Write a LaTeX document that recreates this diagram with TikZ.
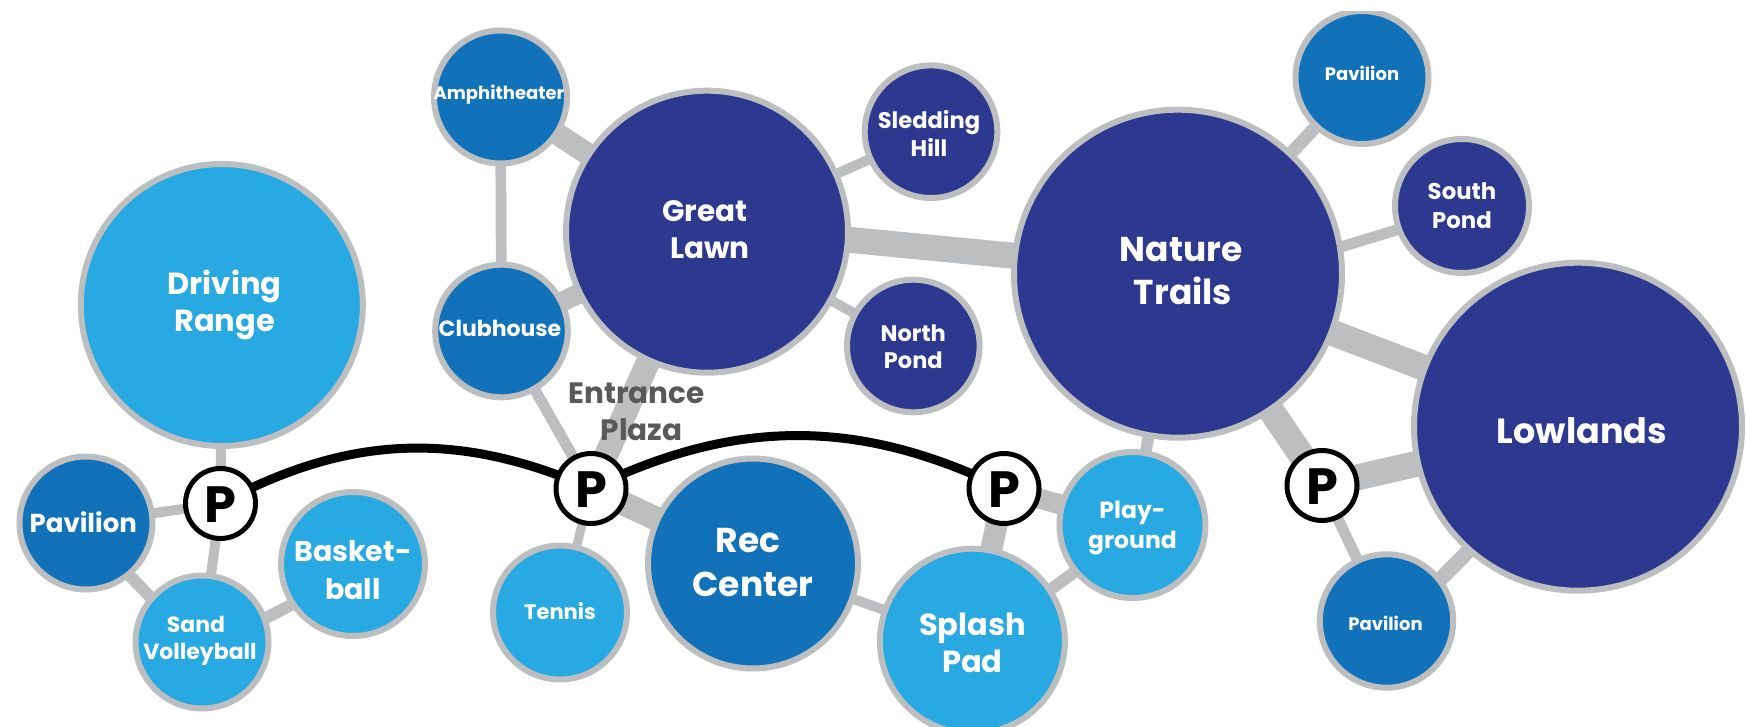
\documentclass[tikz,border=0pt]{standalone}
\usepackage{fontspec}
\setmainfont{Poppins}
\usetikzlibrary{backgrounds}
\definecolor{navy}{HTML}{2D388F}
\definecolor{midblue}{HTML}{1172BA}
\definecolor{skyblue}{HTML}{29A9E1}
\definecolor{linkgray}{HTML}{BCBEC0}
\definecolor{textgray}{HTML}{58595B}
\newcommand{\fsz}[2]{\fontsize{#1}{#2}\selectfont\bfseries}
% \lbl{dx}{first baseline below centre}{lines}: zero-size box, so the circle keeps its size
\newcommand{\lbl}[3]{\makebox[0pt][c]{\hspace*{#1pt}\hspace*{#1pt}\raisebox{-#2pt}[0pt][0pt]{\begin{tabular}[t]{@{}c@{}}#3\end{tabular}}}}
\tikzset{
  x=1pt,y=-1pt,
  place/.style n args={2}{circle,draw=linkgray,line width=6pt,fill=#1,text=white,
     minimum size=#2*2pt-6pt,inner sep=0pt,outer sep=0pt},
  tx/.style 2 args={font=\fsz{#1}{#2}},
  parking/.style={circle,draw=black,line width=5pt,fill=white,text=black,
     minimum size=70pt,inner sep=0pt,outer sep=0pt,font=\fsz{51}{51}},
  link/.style={draw=linkgray,line width=#1pt},
  road/.style={draw=black,line width=9pt},
  caption/.style={text=textgray,inner sep=0pt,font=\fsz{29.5}{36.7}}
}
\begin{document}
\begin{tikzpicture}
\useasboundingbox (0,0) rectangle (1746,727);
% Nodes
\node[place={skyblue}{144},tx={30.5}{37.4}] (driving) at (221.8,305) {\lbl{2.7}{-10.7}{Driving\\Range}};
\node[place={midblue}{69.5},tx={26}{32}] (pavL) at (86,523) {\lbl{-2.7}{9.7}{Pavilion}};
\node[place={skyblue}{69.5},tx={22}{27.5}] (sand) at (202,642) {\lbl{-2}{-10}{\hspace*{-8pt}Sand\\Volleyball}};
\node[place={skyblue}{75},tx={28.5}{37.7}] (basket) at (353,564) {\lbl{0}{-2.3}{Basket-\\ball}};
\node[parking] (p1) at (220.5,503.5) {\lbl{0}{18.7}{P}};
\node[place={midblue}{69.5},tx={18}{26}] (amph) at (500.5,97) {\lbl{-1.5}{3}{Amphitheater}};
\node[place={midblue}{69.3},tx={22}{26}] (club) at (501.5,331) {\lbl{-1.5}{5.7}{Clubhouse}};
\node[place={navy}{144},tx={29.5}{37.3}] (lawn) at (707,231.7) {\lbl{0}{-10}{\hspace*{-4pt}Great\\\hspace*{6pt}Lawn}};
\node[place={navy}{69.3},tx={22.6}{28.4}] (sled) at (931,131.7) {\lbl{-2}{-3.4}{Sledding\\Hill}};
\node[place={navy}{69.3},tx={22.5}{27}] (npond) at (913.3,346) {\lbl{0}{-4.3}{North\\Pond}};
\node[place={navy}{167},tx={34.5}{42.7}] (trails) at (1178,273.7) {\lbl{3}{-12}{Nature\\\hspace*{4pt}Trails}};
\node[place={midblue}{69.5},tx={18}{26}] (pavT) at (1362,77.5) {\lbl{0}{3.5}{Pavilion}};
\node[place={navy}{70},tx={22.8}{28.3}] (spond) at (1462,206) {\lbl{0}{-6}{South\\Pond}};
\node[place={navy}{167},tx={35}{43}] (low) at (1578,426.7) {\lbl{4}{16.3}{Lowlands}};
\node[parking] (p4) at (1322,485.5) {\lbl{0}{18.7}{P}};
\node[place={midblue}{69.7},tx={18}{26}] (pavB) at (1386.5,621) {\lbl{-1}{9}{Pavilion}};
\node[place={skyblue}{76},tx={23.5}{30}] (play) at (1132.5,525) {\lbl{0}{-6.7}{Play-\\ground}};
\node[place={skyblue}{95.5},tx={30.5}{37.7}] (splash) at (972.4,641.2) {\lbl{0}{-6.2}{Splash\\Pad}};
\node[parking] (p3) at (1004,488.5) {\lbl{0}{18.7}{P}};
\node[place={midblue}{108},tx={34.5}{44}] (rec) at (753,563.5) {\lbl{0}{-11.5}{\hspace*{-10pt}Rec\\Center}};
\node[parking] (p2) at (591,488.5) {\lbl{0}{18.7}{P}};
\node[place={skyblue}{70},tx={21}{26}] (tennis) at (560,612.5) {\lbl{0}{7}{Tennis}};
\node[caption] (plaza) at (636.7,403.3) {\lbl{0}{0}{Entrance\\\hspace*{10pt}Plaza}};
% Connectors behind the nodes
\begin{pgfonlayer}{background}
\draw[link=10] (p1.center) -- (driving.center);
\draw[link=10] (p1.center) -- (pavL.center);
\draw[link=10] (p1.center) -- (sand.center);
\draw[link=12] ([yshift=-8pt]pavL.center) -- ([yshift=-8pt]sand.center);
\draw[link=12] ([yshift=-9pt]sand.center) -- ([yshift=-9pt]basket.center);
\draw[link=10.7] (amph.center) -- (club.center);
\draw[link=22] (amph.center) -- (lawn.center);
\draw[link=20] (club.center) -- (lawn.center);
\draw[link=11] (club.center) -- (p2.center);
\draw[link=24] (p2.center) -- (lawn.center);
\draw[link=10] (lawn.center) -- (sled.center);
\draw[link=10] (lawn.center) -- (npond.center);
\draw[link=26] ([yshift=5.7pt]lawn.center) -- ([yshift=2pt]trails.center);
\draw[link=9] (p2.center) -- (tennis.center);
\draw[link=24] (p2.center) -- (rec.center);
\draw[link=10] (rec.center) -- (splash.center);
\draw[link=22] (p3.center) -- (splash.center);
\draw[link=20] (p3.center) -- (play.center);
\draw[link=12] ([yshift=-5pt]splash.center) -- ([yshift=-5pt]play.center);
\draw[link=11.7] (trails.center) -- (play.center);
\draw[link=13] (trails.center) -- (pavT.center);
\draw[link=11] ([yshift=-23pt]trails.center) -- ([yshift=-4pt]spond.center);
\draw[link=26] (trails.center) -- (low.center);
\draw[link=26] (trails.center) -- (p4.center);
\draw[link=26] (p4.center) -- (low.center);
\draw[link=11] (p4.center) -- (pavB.center);
\draw[link=15] ([yshift=-13pt]pavB.center) -- ([yshift=-13pt]low.center);
\draw[road] (p1.center) to[bend left=26] (p2.center);
\draw[road] (p2.center) to[bend left=26] (p3.center);
\end{pgfonlayer}
% The reference is cropped at its top edge
\fill[white] (0,0) rectangle (1746,11);
\end{tikzpicture}
\end{document}
